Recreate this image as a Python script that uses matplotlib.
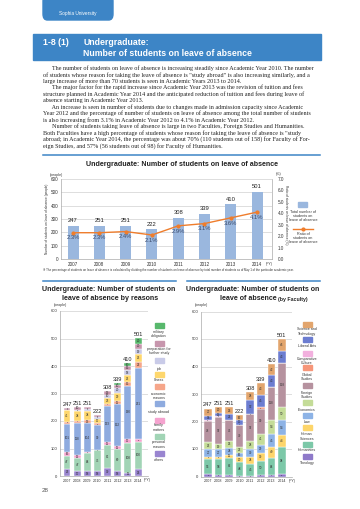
import numpy as np
import matplotlib.pyplot as plt
from matplotlib.patches import FancyBboxPatch, Rectangle
from matplotlib.lines import Line2D

W, H = 360, 509

years = ['2007', '2008', '2009', '2010', '2011', '2012', '2013', '2014']
totals = [247, 251, 251, 222, 308, 339, 410, 501]
ratio = [2.3, 2.3, 2.4, 2.1, 2.9, 3.1, 3.6, 4.1]

# reasons, bottom to top
reason_names = ['others', 'personal\nreasons', 'family\nmatters', 'study abroad',
                'economic\nreasons', 'illness', 'job', 'preparation for\nfurther study',
                'military\nobligation']
reason_colors = ['#9985d0', '#a1d4b5', '#f5a3cf', '#8eabdf', '#f6a68a',
                 '#fed76d', '#c9cbe8', '#c796ad', '#58b86c']
others = [26, 17, 18, 18, 30, 18, 11, 25]
personal = [47, 47, 64, 75, 81, 80, 108, 100]
family = [16, 12, 5, 1, 11, 11, 17, 8]
study_abroad = [101, 118, 104, 90, 133, 152, 190, 261]
economic = [8, 7, 13, 8, 7, 11, 15, 22]
illness = [41, 34, 34, 17, 23, 29, 26, 26]
job = [2, 6, 5, 5, 10, 20, 18, 19]
prep = [6, 10, 8, 8, 13, 10, 15, 20]
military = [0, 0, 0, 0, 0, 8, 10, 20]
reasons = [others, personal, family, study_abroad, economic, illness, job, prep, military]

# faculties, bottom to top
fac_names = ['Theology', 'Humanities', 'Human\nSciences', 'Law', 'Economics',
             'Foreign\nStudies', 'Global\nStudies', 'Comparative\nCulture',
             'Liberal Arts', 'Science and\nTechnology']
fac_colors = ['#8e79c9', '#7cc8a8', '#fdd56a', '#8db3e6', '#c4dc98',
              '#b6929f', '#f69679', '#f2b0de', '#6c7dd1', '#e2a56d']
theology = [8, 6, 7, 3, 2, 6, 4, 8]
humanities = [56, 58, 62, 48, 45, 50, 64, 98]
human_sci = [8, 8, 11, 20, 24, 30, 40, 44]
law = [27, 27, 24, 16, 30, 29, 45, 54]
economics = [26, 19, 25, 22, 28, 41, 54, 50]
foreign = [78, 97, 76, 79, 97, 90, 118, 158]
global_st = [0, 0, 0, 0, 0, 5, 0, 0]
comparative = [3, 4, 0, 1, 2, 0, 0, 0]
liberal = [14, 12, 21, 17, 52, 45, 43, 43]
scitech = [27, 20, 25, 16, 28, 43, 42, 46]
faculties = [theology, humanities, human_sci, law, economics, foreign,
             global_st, comparative, liberal, scitech]

para = [
    "      The number of students on leave of absence is increasing steadily since Academic Year 2010. The number",
    "of students whose reason for taking the leave of absence is \"study abroad\" is also increasing similarly, and a",
    "large increase of more than 70 students is seen in Academic Years 2013 to 2014.",
    "      The major factor for the rapid increase since Academic Year 2013 was the revision of tuition and fees",
    "structure planned in Academic Year 2014 and the anticipated reduction of tuition and fees during leave of",
    "absence starting in Academic Year 2013.",
    "      An increase is seen in number of students due to changes made in admission capacity since Academic",
    "Year 2012 and the percentage of number of students on leave of absence among the total number of students",
    "is also increasing from 3.1% in Academic Year 2012 to 4.1% in Academic Year 2012.",
    "      Number of students taking leave of absence is large in two Faculties, Foreign Studies and Humanities.",
    "Both Faculties have a high percentage of students whose reason for taking the leave of absence is \"study",
    "abroad; in Academic Year 2014, the percentage was about 70% (110 students out of 158) for Faculty of For-",
    "eign Studies, and 57% (56 students out of 98) for Faculty of Humanities.",
]

BLUE = '#3d85c6'
SANS = 'Liberation Sans'
fig = plt.figure(figsize=(3.6, 5.09), dpi=100)


def ft(x, y, s, **kw):
    kw.setdefault('family', SANS)
    return fig.text(x / W, 1 - y / H, s, **kw)


def pax(x0, y0, x1, y1):
    return fig.add_axes([x0 / W, 1 - y1 / H, (x1 - x0) / W, (y1 - y0) / H])


# header tab and title banner
fig.patches.append(FancyBboxPatch((43 / W, 1 - 20 / H), 70 / W, 25 / H,
                                  boxstyle='round,pad=0,rounding_size=0.012',
                                  transform=fig.transFigure, color=BLUE))
ft(78, 13, 'Sophia University', color='white', fontsize=3.4, ha='center', va='center')
fig.patches.append(Rectangle((33 / W, 1 - 60 / H), 288 / W, 26 / H,
                             transform=fig.transFigure, color=BLUE))
tfont = dict(color='white', fontsize=6.35, fontweight='bold', va='center')
ft(43, 42.5, '1-8 (1)', **tfont)
ft(83, 42.5, 'Undergraduate:', **tfont)
ft(83, 53, 'Number of students on leave of absence', **tfont)

for i, line in enumerate(para):
    ft(43, 68.3 + i * 6.45, line, fontsize=4.45, family='Liberation Serif',
       va='center', color='#222222')

fig.add_artist(Line2D([43 / W, 320 / W], [1 - 155 / H] * 2, color=BLUE, lw=1.1))
fig.add_artist(Line2D([43 / W, 176 / W], [1 - 281 / H] * 2, color=BLUE, lw=1.1))
fig.add_artist(Line2D([187 / W, 320 / W], [1 - 281 / H] * 2, color=BLUE, lw=1.1))

hfont = dict(fontweight='bold', va='center', color='#222222')

# ---------- chart 1 ----------
ft(181.5, 164, 'Undergraduate: Number of students on leave of absence', fontsize=5.1,
   ha='center', **hfont)
x = np.arange(len(years))
ax1 = pax(61, 179, 272, 259)
ax1.bar(x, totals, width=0.42, color='#9ab7de', zorder=2)
ax1.set_ylim(0, 600)
ax1.set_xlim(-0.46, 7.57)
ax1.set_yticks(range(0, 601, 100))
ax1.grid(axis='y', color='#d0d0d0', lw=0.5, zorder=0)
for s in ['top', 'right']:
    ax1.spines[s].set_visible(False)
for s in ['left', 'bottom']:
    ax1.spines[s].set_color('#aaaaaa')
    ax1.spines[s].set_linewidth(0.5)
ax1.set_xticks(x)
ax1.set_xticklabels(years, family=SANS)
ax1.set_yticklabels([str(v) for v in range(0, 601, 100)], family=SANS)
ax1.tick_params(labelsize=3.3, length=0, pad=2, colors='#333333')
for xi, t in zip(x, totals):
    ax1.annotate(str(t), (xi, t), xytext=(0, 2), textcoords='offset points',
                 ha='center', va='bottom', fontsize=4.2, color='#222222', family=SANS)
ax1r = ax1.twinx()
ax1r.plot(x, ratio, color='#ef7d2c', lw=1, marker='o', ms=2, zorder=3)
ax1r.set_ylim(0, 7)
ax1r.set_yticks(np.arange(0, 7.01, 1))
ax1r.set_yticklabels([f'{v:.1f}' for v in np.arange(0, 7.01, 1)], family=SANS)
ax1r.tick_params(labelsize=3.3, length=0, pad=4, colors='#333333')
for s in ['top', 'left', 'bottom']:
    ax1r.spines[s].set_visible(False)
ax1r.spines['right'].set_color('#aaaaaa')
ax1r.spines['right'].set_linewidth(0.5)
for xi, r in zip(x, ratio):
    ax1r.annotate(f'{r}%', (xi, r), xytext=(0, -2), textcoords='offset points',
                  ha='center', va='top', fontsize=4.2, color='#3a4a6a', family=SANS)
ft(56, 175, '(people)', fontsize=2.6, ha='center', va='center', color='#333333')
ft(279, 174, '(%)', fontsize=2.6, ha='center', va='center', color='#333333')
ft(269, 264, '(FY)', fontsize=2.6, ha='center', va='center', color='#333333')
ft(47, 219, 'Number of students on leave of absence (people)', fontsize=2.3,
   rotation=90, ha='center', va='center', color='#333333')
ft(286, 215, 'Ratio of students on leave of absence (%)', fontsize=2.3,
   rotation=270, ha='center', va='center', color='#333333')
fig.patches.append(Rectangle((298 / W, 1 - 207 / H), 9 / W, 5 / H,
                             transform=fig.transFigure, color='#9ab7de'))
ft(303, 216, 'Total number of\nstudents on\nleave of absence', fontsize=2.7,
   ha='center', va='center', linespacing=1.1, color='#333333')
fig.add_artist(Line2D([293 / W, 313 / W], [1 - 229 / H] * 2, color='#ef7d2c', lw=1))
fig.add_artist(Line2D([303 / W], [1 - 229 / H], color='#ef7d2c', marker='o', ms=2))
ft(303, 238, 'Ratio of\nstudents on\nleave of absence', fontsize=2.7,
   ha='center', va='center', linespacing=1.1, color='#333333')
ft(43, 270, '\u203b The percentage of students on leave of absence is calculated by dividing the number of students on leave of absence by total number of students as of May 1 of the particular academic year.',
   fontsize=2.05, va='center', color='#333333', family=[SANS, 'DejaVu Sans'])


def stacked(ax, series, colors, width, xlim):
    bottom = np.zeros(len(years))
    for vals, c in zip(series, colors):
        vals = np.array(vals)
        ax.bar(x, vals, bottom=bottom, width=width, color=c, edgecolor='white',
               linewidth=0.3, zorder=2)
        for xi, b, v in zip(x, bottom, vals):
            if v > 0:
                ax.text(xi, b + v / 2, str(v), ha='center', va='center',
                        fontsize=2.2 if v >= 9 else 1.5, color='#333333',
                        zorder=3, family=SANS)
        bottom += vals
    for xi, t in zip(x, bottom):
        ax.text(xi, t + 4, str(int(t)), ha='center', va='bottom', fontsize=4.1,
                color='#222222', family=SANS)
    ax.set_ylim(0, 600)
    ax.set_xlim(*xlim)
    ax.set_yticks(range(0, 601, 100))
    ax.set_yticklabels([str(v) for v in range(0, 601, 100)], family=SANS)
    ax.grid(axis='y', color='#d0d0d0', lw=0.5, zorder=0)
    for s in ['top', 'right']:
        ax.spines[s].set_visible(False)
    for s in ['left', 'bottom']:
        ax.spines[s].set_color('#aaaaaa')
        ax.spines[s].set_linewidth(0.5)
    ax.set_xticks(x)
    ax.set_xticklabels(years, family=SANS)
    ax.tick_params(labelsize=2.7, length=0, pad=2, colors='#333333')
    ax.tick_params(axis='y', labelsize=3.0)


def legend(items, colors, xc, patch_y, label_y):
    for name, c, py, ly in zip(items, colors, patch_y, label_y):
        fig.patches.append(Rectangle(((xc - 4.5) / W, 1 - (py + 2.5) / H), 9 / W, 5 / H,
                                     transform=fig.transFigure, color=c))
        ft(xc, ly, name, fontsize=2.6, ha='center', va='center', linespacing=1.1,
           color='#333333')


# ---------- chart 2 ----------
ft(109, 289.5, 'Undergraduate: Number of students on', fontsize=5.1, ha='center', **hfont)
ft(110, 299, 'leave of absence by reasons', fontsize=5.1, ha='center', **hfont)
ax2 = pax(60, 311, 148, 476)
stacked(ax2, reasons, reason_colors, 0.68, (-0.69, 7.98))
ft(60, 305, '(people)', fontsize=2.6, ha='center', va='center', color='#333333')
ft(147, 480, '(FY)', fontsize=2.6, ha='center', va='center', color='#333333')
legend(reason_names[::-1], reason_colors[::-1], 159,
       [325, 343, 360, 374, 386, 403, 420, 436, 453],
       [334, 351, 369, 380, 396, 412, 427.5, 444.5, 460])

# ---------- chart 3 ----------
ft(253, 289.5, 'Undergraduate: Number of students on', fontsize=5.1, ha='center', **hfont)
ft(277, 299, 'leave of absence', fontsize=5.1, ha='right', **hfont)
ft(278.5, 299.5, '(by Faculty)', fontsize=3.8, ha='left', **hfont)
ax3 = pax(201, 311.5, 292, 476.5)
stacked(ax3, faculties, fac_colors, 0.72, (-0.66, 7.95))
ft(201, 305, '(people)', fontsize=2.6, ha='center', va='center', color='#333333')
ft(292, 481, '(FY)', fontsize=2.6, ha='center', va='center', color='#333333')
legend(fac_names[::-1], fac_colors[::-1], 307,
       [324.5, 339.5, 353, 367, 385, 402, 415.5, 427.5, 444, 456.5],
       [331.5, 346, 361, 377, 395, 410, 422, 436.5, 450, 463])

ft(45, 491, '28', fontsize=4.5, ha='center', va='center', color='#555555')

fig.savefig('out.png', dpi=100)
